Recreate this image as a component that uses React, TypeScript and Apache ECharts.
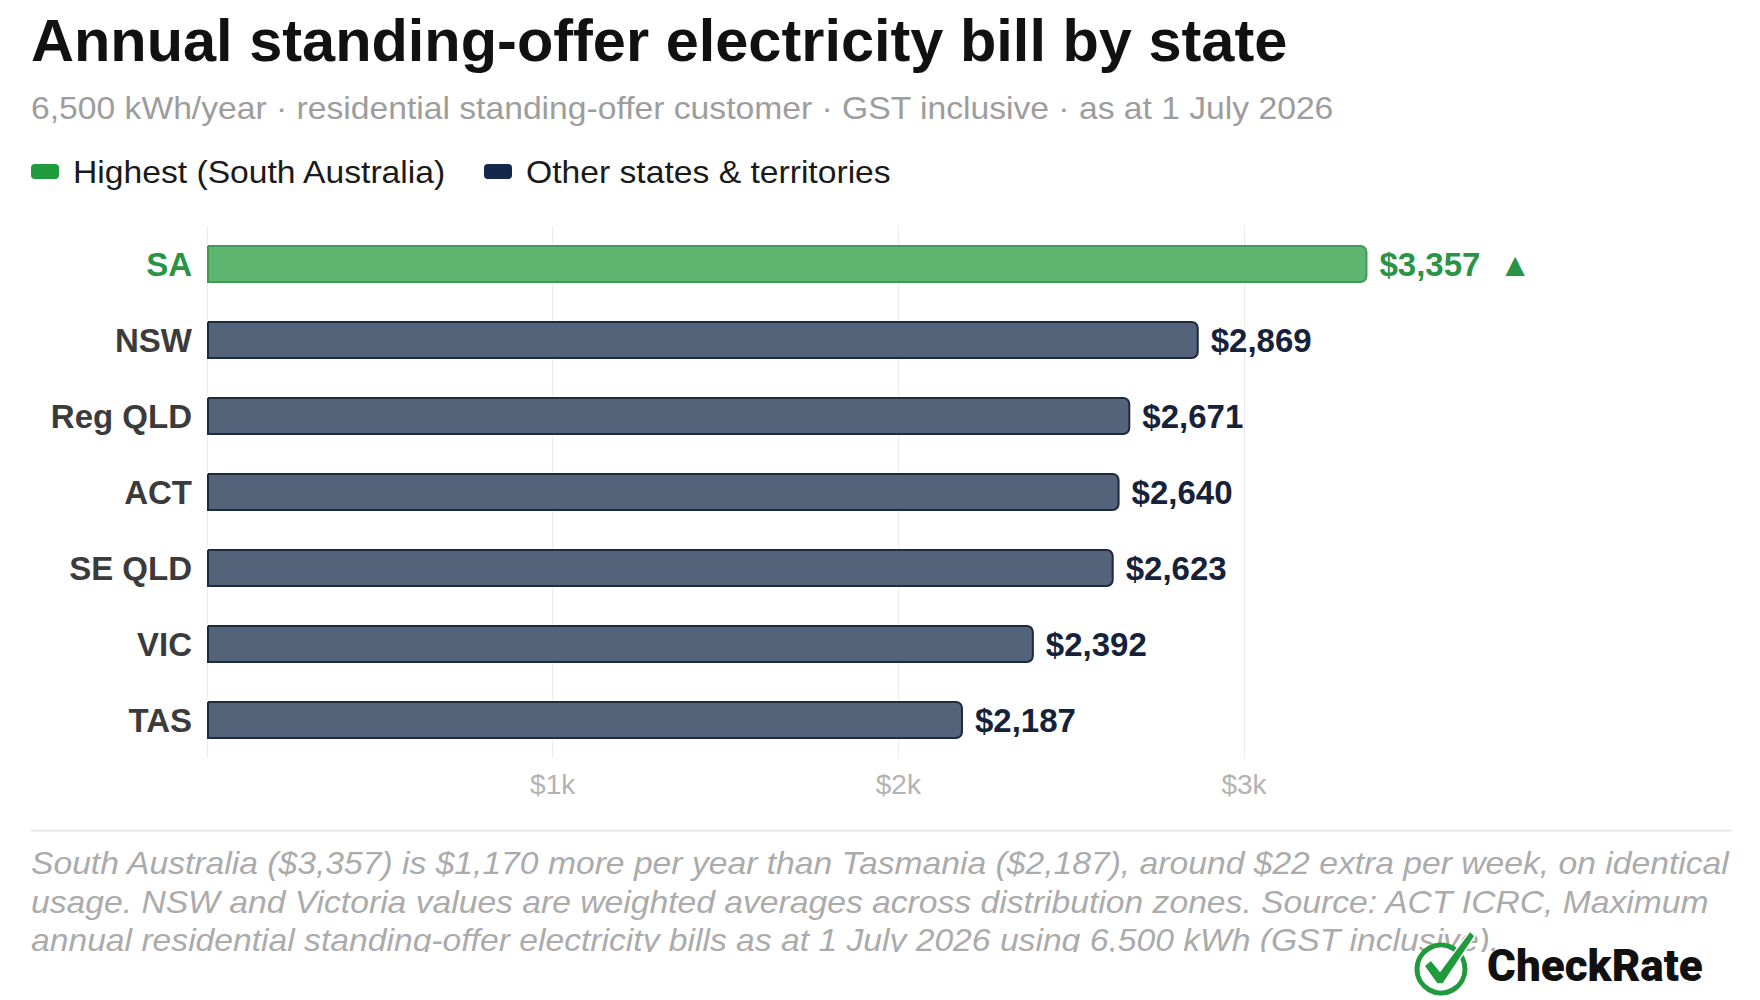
import React, { useEffect, useRef } from "react";
import * as echarts from "echarts";

// Annual standing-offer bills (AUD, 6,500 kWh, GST inclusive)
const states = ["SA", "NSW", "Reg QLD", "ACT", "SE QLD", "VIC", "TAS"];
const bills = [3357, 2869, 2671, 2640, 2623, 2392, 2187];
const highestState = "SA";

const titleText = "Annual standing-offer electricity bill by state";
const subtitleText =
  "6,500 kWh/year · residential standing-offer customer · GST inclusive · as at 1 July 2026";
const legendLabels = ["Highest (South Australia)", "Other states & territories"];
const footnoteLines = [
  "South Australia ($3,357) is $1,170 more per year than Tasmania ($2,187), around $22 extra per week, on identical",
  "usage. NSW and Victoria values are weighted averages across distribution zones. Source: ACT ICRC, Maximum",
  "annual residential standing-offer electricity bills as at 1 July 2026 using 6,500 kWh (GST inclusive).",
];
const brandName = "CheckRate";

const axisMin = 0;
const axisMax = 4000;
const axisStep = 1000;

const GREEN = "#1f9a3c";
const GREEN_FILL = "#5fb670";
const GREEN_TEXT = "#2a9446";
const NAVY = "#13284a";
const NAVY_FILL = "#536379";
const NAVY_BORDER = "#1e2a3d";
const FONT = "'Liberation Sans', Arial, sans-serif";
const WIDE = 1.052; // horizontal stretch of the regular-weight texts

function buildOption() {
  const data = bills.map((v, i) => {
    const top = states[i] === highestState;
    return {
      value: v,
      itemStyle: {
        color: top ? GREEN_FILL : NAVY_FILL,
        borderColor: top ? "#3f9a55" : NAVY_BORDER,
      },
      label: {
        color: top ? GREEN_TEXT : "#16223a",
        formatter: () => "$" + v.toLocaleString("en-US") + (top ? "  ▲" : ""),
      },
    };
  });

  const plainText = (text: string, x: number, y: number, size: number, fill: string, extra: any = {}) => ({
    type: "text",
    x,
    y,
    scaleX: WIDE,
    style: {
      text,
      fill,
      fontFamily: FONT,
      fontSize: size,
      textVerticalAlign: "middle",
      ...extra,
    },
  });

  return {
    animation: false,
    backgroundColor: "#ffffff",
    grid: { left: 207, top: 226, width: 1382.7, height: 532, containLabel: false },
    xAxis: {
      type: "value",
      min: axisMin,
      max: axisMax,
      interval: axisStep,
      axisLine: { show: false },
      axisTick: { show: false },
      splitLine: {
        show: true,
        showMaxLine: false,
        lineStyle: { color: "#ececec", width: 1 },
      },
      axisLabel: {
        showMaxLabel: false,
        margin: 12,
        fontFamily: FONT,
        fontSize: 28,
        color: "#b3b3b3",
        formatter: (v: number) => (v === 0 ? "" : "$" + v / 1000 + "k"),
      },
    },
    yAxis: {
      type: "category",
      data: states,
      inverse: true,
      axisLine: { show: false },
      axisTick: { show: false },
      splitLine: { show: false },
      axisLabel: {
        margin: 15,
        fontFamily: FONT,
        fontSize: 33,
        fontWeight: "bold",
        color: (val: string) => (val === highestState ? GREEN_TEXT : "#3b3b3b"),
      },
    },
    series: [
      {
        type: "bar",
        data,
        barWidth: 38,
        itemStyle: { borderWidth: 2, borderRadius: [0, 6, 6, 0] },
        label: {
          show: true,
          position: "right",
          distance: 12,
          fontFamily: FONT,
          fontSize: 33,
          fontWeight: "bold",
        },
      },
    ],
    graphic: [
      {
        type: "text",
        x: 31,
        y: 40,
        style: {
          text: titleText,
          fill: "#111111",
          fontFamily: FONT,
          fontSize: 59.5,
          fontWeight: "bold",
          textVerticalAlign: "middle",
        },
      },
      plainText(subtitleText, 31, 108, 32, "#9d9d9d"),
      {
        type: "rect",
        shape: { x: 31, y: 164, width: 28, height: 15, r: 4 },
        style: { fill: GREEN },
      },
      plainText(legendLabels[0], 73, 172, 32, "#1a1a1a"),
      {
        type: "rect",
        shape: { x: 484, y: 164, width: 28, height: 15, r: 4 },
        style: { fill: NAVY },
      },
      plainText(legendLabels[1], 526, 172, 32, "#1a1a1a"),
      {
        type: "line",
        shape: { x1: 31, y1: 830.5, x2: 1732, y2: 830.5 },
        style: { stroke: "#e8e8e8", lineWidth: 2 },
      },
      ...footnoteLines.map((line, i) =>
        plainText(line, 31, 863 + i * 38.5, 32, "#ababab", { fontStyle: "italic" })
      ),
      // footnote box ends here; overflowing text is cut off
      {
        type: "rect",
        shape: { x: 0, y: 952, width: 1760, height: 48 },
        style: { fill: "#ffffff" },
      },
      // brand mark
      {
        type: "circle",
        shape: { cx: 1441, cy: 969, r: 24 },
        style: { fill: "#ffffff", stroke: GREEN, lineWidth: 5 },
      },
      {
        type: "polygon",
        shape: {
          points: [
            [1424, 966],
            [1431, 960],
            [1440, 971],
            [1470, 931],
            [1475, 936],
            [1443, 984],
            [1437, 984],
          ],
        },
        style: { fill: GREEN, stroke: "#ffffff", lineWidth: 1.5 },
      },
      {
        type: "text",
        x: 1487,
        y: 966,
        style: {
          text: brandName,
          fill: "#111111",
          fontFamily: "Roboto, 'Liberation Sans', sans-serif",
          fontSize: 44,
          fontWeight: 900,
          textVerticalAlign: "middle",
        },
      },
    ],
  };
}

export default function App() {
  const ref = useRef<HTMLDivElement>(null);
  useEffect(() => {
    document.body.style.margin = "0";
    const chart = echarts.init(ref.current!, null, {
      renderer: "svg",
      width: 1760,
      height: 1000,
    });
    chart.setOption(buildOption() as any);
    return () => chart.dispose();
  }, []);
  return <div ref={ref} style={{ width: 1760, height: 1000 }} />;
}
